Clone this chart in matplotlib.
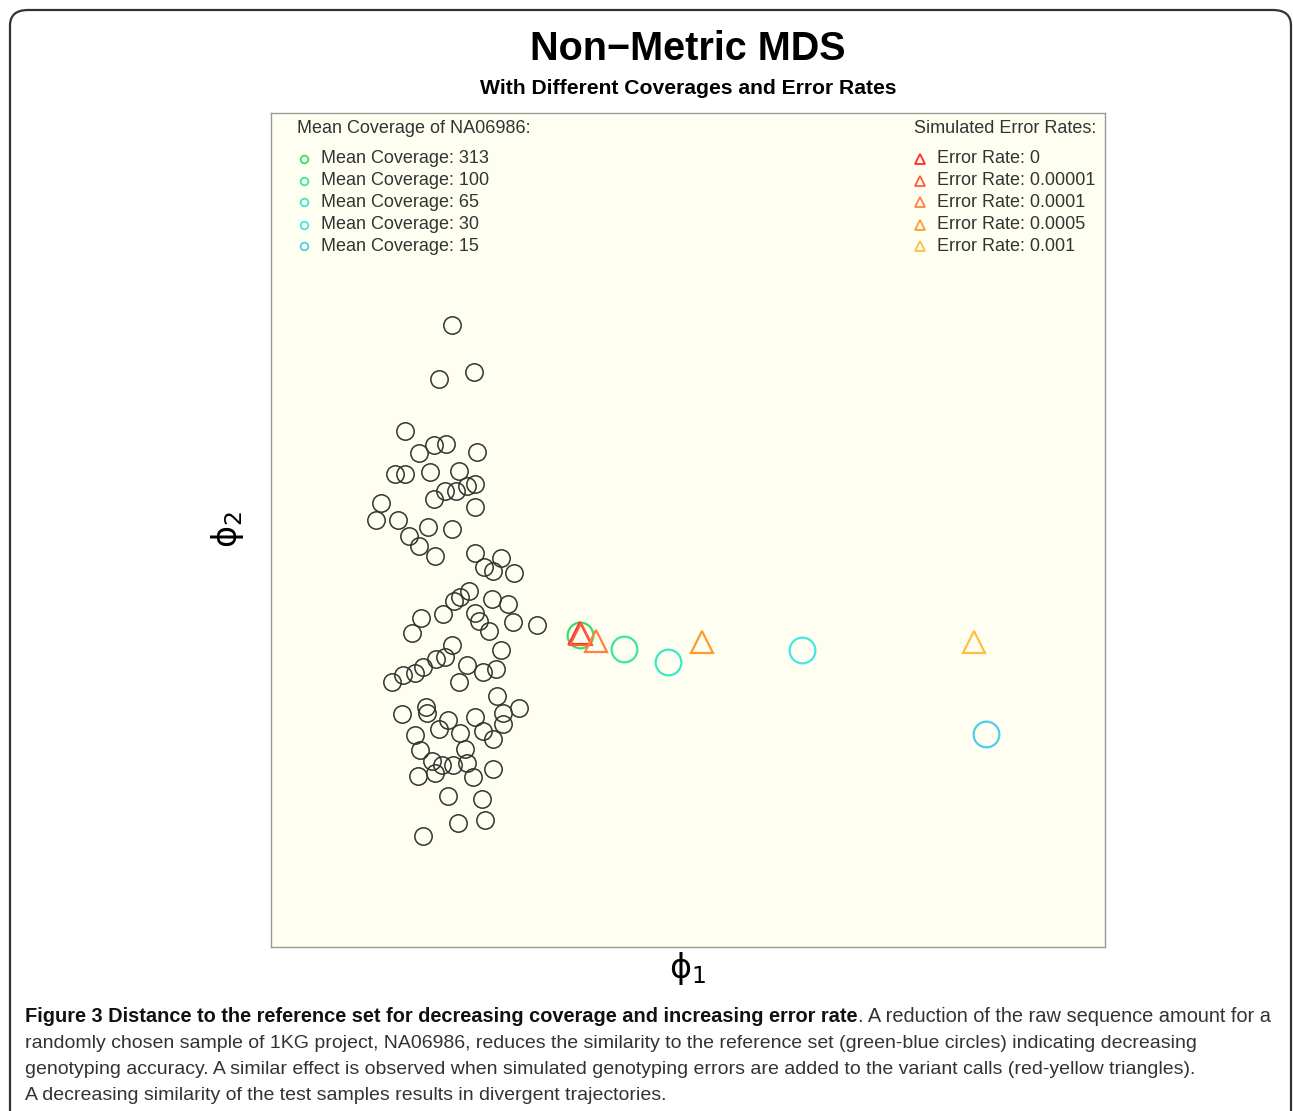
import numpy as np
import matplotlib.pyplot as plt
from matplotlib.patches import FancyBboxPatch

plt.rcParams['font.family'] = ['Liberation Sans', 'DejaVu Sans']

# MDS coordinates (arbitrary units)
ref_x = [181, 168, 203, 134, 148, 163, 175, 206, 124, 134, 159, 188, 163, 174, 185,
         196, 204, 204, 110, 105, 127, 157, 181, 138, 148, 164, 204, 213, 222, 230,
         243, 198, 189, 183, 221, 237, 172, 150, 141, 204, 208, 218, 242, 266, 121,
         132, 144, 152, 165, 174, 181, 196, 188, 212, 225, 230, 226, 131, 155, 156,
         177, 168, 204, 232, 248, 232, 212, 222, 189, 144, 194, 149, 161, 171, 182,
         196, 164, 147, 202, 222, 177, 211, 187, 214, 152]
ref_y = [622, 568, 575, 516, 494, 502, 503, 495, 473, 473, 475, 476, 448, 456, 456,
         461, 463, 440, 444, 427, 427, 420, 418, 411, 401, 391, 394, 380, 376, 389,
         374, 356, 350, 346, 348, 343, 333, 329, 314, 334, 326, 316, 325, 322, 265,
         272, 274, 280, 288, 290, 302, 282, 265, 275, 278, 297, 251, 233, 240, 234,
         227, 218, 230, 234, 239, 223, 216, 208, 214, 212, 198, 197, 186, 182, 182,
         184, 174, 171, 170, 178, 151, 148, 124, 127, 111]

cov_labels = ['313', '100', '65', '30', '15']
cov_x = [309, 353, 397, 531, 715]
cov_y = [312, 298, 285, 297, 213]
cov_colors = ['#3CDB6E', '#37E8A5', '#3DE8C8', '#45E6E8', '#4FCDEF']

err_labels = ['0', '0.00001', '0.0001', '0.0005', '0.001']
err_x = [309, 310, 325, 431, 703]
err_y = [314, 313, 306, 305, 305]
err_colors = ['#FF2A2A', '#FF5A3A', '#FF8040', '#FF9A30', '#FFC040']

caption_bold = 'Figure 3 Distance to the reference set for decreasing coverage and increasing error rate'
caption_rest = '. A reduction of the raw sequence amount for a'
caption_lines = [
    'randomly chosen sample of 1KG project, NA06986, reduces the similarity to the reference set (green-blue circles) indicating decreasing',
    'genotyping accuracy. A similar effect is observed when simulated genotyping errors are added to the variant calls (red-yellow triangles).',
    'A decreasing similarity of the test samples results in divergent trajectories.',
]

fig = plt.figure(figsize=(12.93, 11.11), dpi=100)
W, H = 1293, 1111

# rounded frame of the figure panel
frame = FancyBboxPatch((10 / W, -20 / H), 1281 / W, 1121 / H,
                       boxstyle='round,pad=0,rounding_size=0.014',
                       transform=fig.transFigure, fill=False,
                       edgecolor='#333333', linewidth=1.6)
fig.patches.append(frame)

ax = fig.add_axes([271 / W, 1 - 947 / H, 834 / W, 834 / H])
ax.set_facecolor('#FEFEF1')
for s in ax.spines.values():
    s.set_color('#999999')
    s.set_linewidth(1.0)
ax.set_xlim(0, 834)
ax.set_ylim(0, 834)
ax.set_xticks([])
ax.set_yticks([])

ax.plot(ref_x, ref_y, 'o', ms=12.5, mfc='none', mec='#333333', mew=1.1, ls='none')
for x, y, c in zip(cov_x, cov_y, cov_colors):
    ax.plot(x, y, 'o', ms=18.5, mfc='none', mec=c, mew=1.6)
for x, y, c in zip(err_x, err_y, err_colors):
    ax.plot(x, y, '^', ms=16, mfc='none', mec=c, mew=1.6)

# legends
rows = [0.945, 0.919, 0.893, 0.866, 0.840]
ax.text(0.031, 0.981, 'Mean Coverage of NA06986:', transform=ax.transAxes,
        ha='left', va='center', fontsize=13, color='#333333')
for r, lab, c in zip(rows, cov_labels, cov_colors):
    ax.plot(0.0396, r, 'o', ms=5.5, mfc='none', mec=c, mew=1.3, transform=ax.transAxes)
    ax.text(0.060, r, 'Mean Coverage: ' + lab, transform=ax.transAxes,
            ha='left', va='center', fontsize=13, color='#333333')
ax.text(0.990, 0.981, 'Simulated Error Rates:', transform=ax.transAxes,
        ha='right', va='center', fontsize=13, color='#333333')
for r, lab, c in zip(rows, err_labels, err_colors):
    ax.plot(0.778, r, '^', ms=7, mfc='none', mec=c, mew=1.3, transform=ax.transAxes)
    ax.text(0.799, r, 'Error Rate: ' + lab, transform=ax.transAxes,
            ha='left', va='center', fontsize=13, color='#333333')

ax.set_xlabel('\u03d5$_1$', fontsize=24, labelpad=2, family='DejaVu Sans')
ax.set_ylabel('\u03d5$_2$', fontsize=24, labelpad=18, family='DejaVu Sans')

fig.text(688 / W, 1 - 49 / H, 'Non\u2212Metric MDS', ha='center', va='center',
         fontsize=28.5, fontweight='bold')
fig.text(688 / W, 1 - 88 / H, 'With Different Coverages and Error Rates', ha='center',
         va='center', fontsize=15.2, fontweight='bold')

t1 = fig.text(25 / W, 1 - 1017 / H, caption_bold, ha='left', va='center',
              fontsize=14.4, fontweight='bold', color='#111111')
ax.annotate(caption_rest, xy=(1, 0), xycoords=t1, ha='left', va='bottom',
            fontsize=14.4, color='#333333', annotation_clip=False)
for i, line in enumerate(caption_lines):
    fig.text(25 / W, 1 - (1043 + 26 * i) / H, line, ha='left', va='center',
             fontsize=14, color='#333333')

plt.savefig('out.png', dpi=100)
